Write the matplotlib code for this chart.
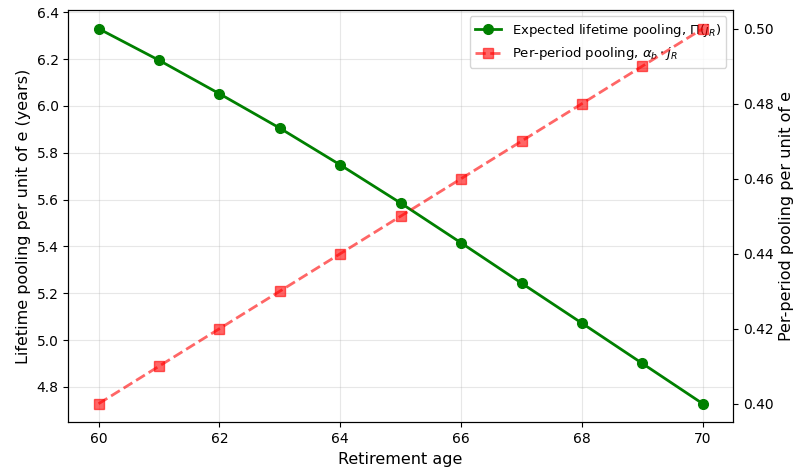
import numpy as np
import matplotlib
matplotlib.use("Agg")
import matplotlib.pyplot as plt

retirement_age = [60, 61, 62, 63, 64, 65, 66, 67, 68, 69, 70]
lifetime_pooling = [6.33, 6.195, 6.052, 5.905, 5.748, 5.585, 5.415, 5.243, 5.072, 4.900, 4.728]
per_period_pooling = [0.40, 0.41, 0.42, 0.43, 0.44, 0.45, 0.46, 0.47, 0.48, 0.49, 0.50]

fig, ax1 = plt.subplots(figsize=(7.95, 4.71), dpi=100)
fig.subplots_adjust(left=0.086, right=0.922, top=0.979, bottom=0.103)

l1, = ax1.plot(retirement_age, lifetime_pooling, "o-", color="green", lw=2, ms=7,
               label=r"Expected lifetime pooling, $\Pi(j_R)$")
ax1.set_xlabel("Retirement age", fontsize=11.5)
ax1.set_ylabel("Lifetime pooling per unit of e (years)", fontsize=11.5)
ax1.grid(True, alpha=0.3)

ax2 = ax1.twinx()
l2, = ax2.plot(retirement_age, per_period_pooling, "s--", color="red", alpha=0.6, lw=2, ms=7,
               label=r"Per-period pooling, $\alpha_b \cdot j_R$")
ax2.set_ylabel("Per-period pooling per unit of e", fontsize=11.5)

ax1.legend(handles=[l1, l2], loc="upper right", fontsize=9.5)

fig.savefig("out.png", dpi=100)
